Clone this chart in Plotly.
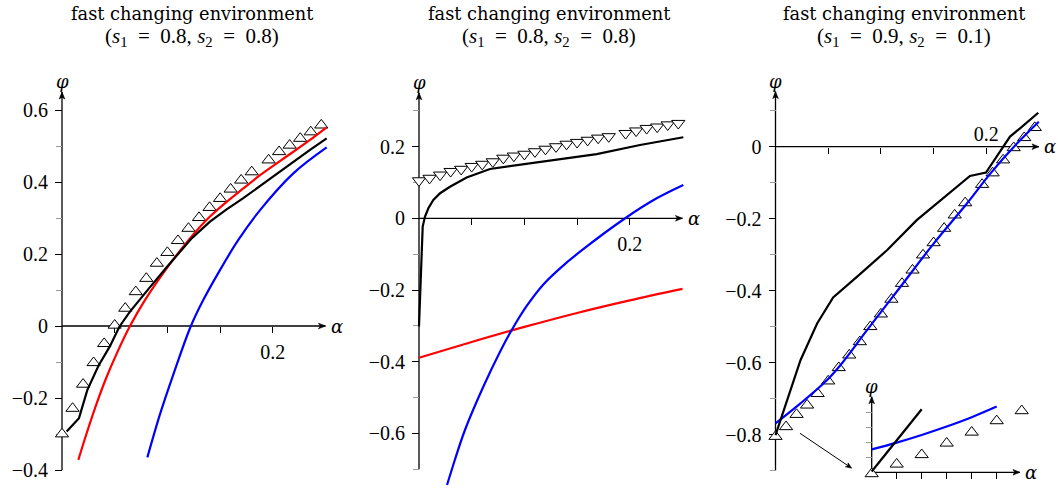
import math
import plotly.graph_objects as go

W, H = 1058, 492

# ------------------------------------------------------------------ data
# abscissae of the triangle markers (shared by the three panels)
tri_alpha = [0.00, 0.01, 0.02, 0.03, 0.04, 0.05, 0.06, 0.07, 0.08, 0.09,
             0.10, 0.11, 0.12, 0.13, 0.14, 0.15, 0.16, 0.17, 0.18,
             0.196, 0.206, 0.216, 0.226, 0.236, 0.246]

# panel 1 (s1 = 0.8, s2 = 0.8)
p1_tri = [-0.300, -0.229, -0.162, -0.102, -0.049, 0.002, 0.049, 0.095, 0.132, 0.174,
          0.204, 0.237, 0.271, 0.301, 0.329, 0.354, 0.380, 0.405, 0.428,
          0.461, 0.484, 0.502, 0.521, 0.539, 0.558]
p1_red_a = [0.0155, 0.0234, 0.0329, 0.0424, 0.0534, 0.0645, 0.0787, 0.1000, 0.1214,
            0.1404, 0.1562, 0.1720, 0.1879, 0.2037, 0.2195, 0.2353, 0.2511]
p1_red = [-0.372, -0.298, -0.215, -0.141, -0.067, 0.000, 0.072, 0.163, 0.2435,
          0.304, 0.345, 0.382, 0.419, 0.452, 0.484, 0.517, 0.552]
p1_blue_a = [0.081, 0.093, 0.1056, 0.122, 0.134, 0.150, 0.1673, 0.1879, 0.2195, 0.2511]
p1_blue = [-0.365, -0.245, -0.135, -0.002, 0.072, 0.156, 0.239, 0.322, 0.424, 0.496]
p1_black_a = [0.0044, 0.0161, 0.0240, 0.0345, 0.0455, 0.0544, 0.0645, 0.0740, 0.0835,
              0.0993, 0.1230, 0.1404, 0.1562, 0.1720, 0.1879, 0.2037, 0.2195, 0.2353, 0.2511]
p1_black = [-0.293, -0.256, -0.178, -0.111, -0.056, -0.002, 0.040, 0.075, 0.108,
            0.163, 0.2435, 0.290, 0.324, 0.355, 0.389, 0.424, 0.457, 0.489, 0.521]

# panel 2 (s1 = 0.8, s2 = 0.8)
p2_tri = [0.105, 0.112, 0.121, 0.131, 0.137, 0.145, 0.151, 0.158, 0.168, 0.174,
          0.179, 0.186, 0.193, 0.200, 0.207, 0.212, 0.218, 0.224, 0.228,
          0.237, 0.244, 0.251, 0.255, 0.261, 0.265]
p2_red_a = [0.00, 0.05, 0.10, 0.15, 0.20, 0.25]
p2_red = [-0.389, -0.345, -0.303, -0.264, -0.229, -0.197]
p2_blue_a = [0.0266, 0.031, 0.0436, 0.061, 0.0769, 0.088, 0.1022, 0.118, 0.1338,
             0.1528, 0.197, 0.2255, 0.2508]
p2_blue = [-0.744, -0.702, -0.5905, -0.4697, -0.372, -0.3116, -0.2445, -0.1845, -0.1395,
           -0.093, 0.003, 0.0558, 0.093]
p2_black_a = [0.000, 0.0035, 0.0057, 0.0089, 0.0136, 0.020, 0.0294, 0.0452, 0.0674,
              0.0927, 0.1148, 0.1686, 0.2097, 0.2508]
p2_black = [-0.302, -0.023, 0.005, 0.028, 0.051, 0.070, 0.088, 0.114, 0.1376,
            0.148, 0.155, 0.179, 0.2045, 0.226]

# panel 3 (s1 = 0.9, s2 = 0.1)
p3_tri = [-0.805, -0.778, -0.744, -0.718, -0.686, -0.651, -0.614, -0.579, -0.542, -0.500,
          -0.465, -0.424, -0.380, -0.343, -0.301, -0.267, -0.227, -0.190, -0.156,
          -0.105, -0.073, -0.037, -0.003, 0.025, 0.053]
p3_blue_a = [0.000, 0.0237, 0.049, 0.0617, 0.087, 0.1186, 0.1502, 0.1818, 0.204, 0.2293, 0.2498]
p3_blue = [-0.7685, -0.713, -0.648, -0.6065, -0.509, -0.389, -0.2685, -0.157, -0.074, 0.0093, 0.0694]
p3_black_a = [0.000, 0.011, 0.0237, 0.0395, 0.0547, 0.0775, 0.106, 0.134, 0.1624,
              0.1845, 0.1997, 0.2099, 0.2225, 0.232, 0.2493]
p3_black = [-0.801, -0.704, -0.593, -0.491, -0.4185, -0.361, -0.287, -0.204, -0.135,
            -0.0814, -0.072, -0.028, 0.028, 0.051, 0.0944]

# inset of panel 3 (close-up near the origin, unscaled)
ins_tri_x = [0, 1, 2, 3, 4, 5, 6]
ins_tri_y = [-0.1, 0.54, 1.17, 1.94, 2.67, 3.43, 4.10]
ins_blue_x = [0, 1, 2, 3, 4, 5]
ins_blue_y = [1.53, 1.98, 2.49, 3.05, 3.67, 4.38]
ins_black_x = [0, 2]
ins_black_y = [0.05, 4.2]

# pointer from the main panel-3 plot to the inset (panel-3 data units)
pointer_from = (0.0232, -0.796)
pointer_to = (0.0723, -0.893)

# text / tick labels
SP = "\u2002"
titles_l1 = ["fast changing environment"] * 3
titles_l2 = ["(<i>s</i><sub>1</sub>" + SP + "=" + SP + "0.8, <i>s</i><sub>2</sub>" + SP + "=" + SP + "0.8)",
             "(<i>s</i><sub>1</sub>" + SP + "=" + SP + "0.8, <i>s</i><sub>2</sub>" + SP + "=" + SP + "0.8)",
             "(<i>s</i><sub>1</sub>" + SP + "=" + SP + "0.9, <i>s</i><sub>2</sub>" + SP + "=" + SP + "0.1)"]
x_ticks = [0.20]
x_ticktext = ["0.2"]
x_minor = [0.05, 0.10, 0.15]
y_ticks = [[-0.4, -0.2, 0.0, 0.2, 0.4, 0.6],
           [-0.6, -0.4, -0.2, 0.0, 0.2],
           [-0.8, -0.6, -0.4, -0.2, 0.0]]
y_ticktext = [["\u22120.4", "\u22120.2", "0", "0.2", "0.4", "0.6"],
              ["\u22120.6", "\u22120.4", "\u22120.2", "0", "0.2"],
              ["\u22120.8", "\u22120.6", "\u22120.4", "\u22120.2", "0"]]
y_minor = [[-0.3, -0.1, 0.1, 0.3, 0.5],
           [-0.7, -0.5, -0.3, -0.1, 0.1, 0.3],
           [-0.9, -0.7, -0.5, -0.3, -0.1, 0.1]]

# ------------------------------------------------------------------ layout geometry
# pixel origin of each panel, pixel-per-unit scales, ranges, axis extents
panels = [
    dict(ox=62.0, oy=326.0, sx=1054, sy=360, xr=[-0.015, 0.265], yr=[-0.45, 0.66],
         ybot=-0.4, ytop=0.65, xend=0.25, title_x=191.5, above=False),
    dict(ox=419.0, oy=218.3, sx=1054, sy=358.5, xr=[-0.015, 0.265], yr=[-0.76, 0.37],
         ybot=-0.7, ytop=0.35, xend=0.25, title_x=548.5, above=False),
    dict(ox=775.5, oy=146.7, sx=1054, sy=360, xr=[-0.015, 0.265], yr=[-0.93, 0.17],
         ybot=-0.9, ytop=0.153, xend=0.25, title_x=903.5, above=True),
]
inset = dict(ox=871.7, oy=472.3, sx=25, sy=15, xr=[-0.5, 6.8], yr=[-0.6, 5.6],
             ybot=0, ytop=5.04, xend=5.93)


def _clip(v):
    return min(1.0, max(0.0, v))


def xdom(p):
    return [_clip((p["ox"] + p["xr"][0] * p["sx"]) / W), _clip((p["ox"] + p["xr"][1] * p["sx"]) / W)]


def xrange_(p):
    d = xdom(p)
    return [(d[0] * W - p["ox"]) / p["sx"], (d[1] * W - p["ox"]) / p["sx"]]


def ydom(p):
    return [_clip(1 - (p["oy"] - p["yr"][0] * p["sy"]) / H), _clip(1 - (p["oy"] - p["yr"][1] * p["sy"]) / H)]


def yrange_(p):
    d = ydom(p)
    return [(p["oy"] - (1 - d[0]) * H) / p["sy"], (p["oy"] - (1 - d[1]) * H) / p["sy"]]


def head(xa, ya, x, y, ux, uy, L=7.0, w=2.8, notch=5.2):
    """filled arrow head (pixel sized) at (x, y) pointing along (ux, uy) (y up)."""
    nx, ny = -uy, ux
    pts = [(0, 0),
           (-L * ux + w * nx, -L * uy + w * ny),
           (-notch * ux, -notch * uy),
           (-L * ux - w * nx, -L * uy - w * ny)]
    path = "M" + " L".join("%.2f,%.2f" % q for q in pts) + " Z"
    return dict(type="path", xref=xa, yref=ya, xsizemode="pixel", ysizemode="pixel",
                xanchor=x, yanchor=y, path=path, fillcolor="black",
                line=dict(color="black", width=0.6), layer="above")


SERIF = "Liberation Serif, Times New Roman, Times, serif"
TICKFONT = dict(family=SERIF, size=20, color="black")
LBLFONT = dict(family="DejaVu Serif", size=18, color="black")
TRI_SIZE = 11.5

fig = go.Figure()

series = [
    (p1_tri, "triangle-up", [(p1_red_a, p1_red, "#ff0000", "spline"),
                             (p1_blue_a, p1_blue, "#0000ff", "spline"),
                             (p1_black_a, p1_black, "black", "linear")]),
    (p2_tri, "triangle-down", [(p2_red_a, p2_red, "#ff0000", "spline"),
                               (p2_blue_a, p2_blue, "#0000ff", "spline"),
                               (p2_black_a, p2_black, "black", "linear")]),
    (p3_tri, "triangle-up", [(p3_blue_a, p3_blue, "#0000ff", "spline"),
                             (p3_black_a, p3_black, "black", "linear")]),
]

shapes = []
annotations = []
for i, (p, (tri, sym, lines)) in enumerate(zip(panels, series)):
    n = "" if i == 0 else str(i + 1)
    xa, ya = "x" + n, "y" + n
    fig.add_trace(go.Scatter(x=tri_alpha, y=tri, mode="markers", xaxis=xa, yaxis=ya,
                             cliponaxis=False, showlegend=False,
                             marker=dict(symbol=sym, size=TRI_SIZE, color="white",
                                         line=dict(color="black", width=1))))
    for (a, v, c, shp) in lines:
        fig.add_trace(go.Scatter(x=a, y=v, mode="lines", xaxis=xa, yaxis=ya, showlegend=False,
                                 line=dict(color=c, width=2.2, shape=shp)))
    xdict = dict(
        domain=xdom(p), range=xrange_(p), anchor="free", position=1 - p["oy"] / H,
        showline=False, zeroline=False, showgrid=False,
        tickmode="array", tickvals=x_ticks, ticktext=x_ticktext,
        ticklen=6, tickwidth=1, tickcolor="black",
        minor=dict(tickmode="array", tickvals=x_minor, ticklen=6, tickwidth=1,
                   tickcolor="black", ticks="inside" if p["above"] else "outside"),
        tickfont=TICKFONT, ticklabelstandoff=2, layer="below traces")
    if p["above"]:
        xdict.update(side="top", ticks="inside")
    else:
        xdict.update(side="bottom", ticks="outside")
    fig.layout["xaxis" + n] = xdict
    fig.layout["yaxis" + n] = dict(
        domain=ydom(p), range=yrange_(p), anchor="free", position=p["ox"] / W,
        showline=False, zeroline=False, showgrid=False,
        tickmode="array", tickvals=y_ticks[i], ticktext=y_ticktext[i],
        ticks="outside", ticklen=7, tickwidth=1, tickcolor="black",
        minor=dict(tickmode="array", tickvals=y_minor[i], ticks="outside", ticklen=6,
                   tickwidth=1, tickcolor="#9a9a9a"),
        tickfont=TICKFONT, ticklabelstandoff=3, layer="below traces")
    # axis lines with arrow heads
    shapes.append(dict(type="line", xref=xa, yref=ya, x0=0, y0=0, x1=p["xend"], y1=0,
                       line=dict(color="black", width=1.3), layer="below"))
    shapes.append(dict(type="line", xref=xa, yref=ya, x0=0, y0=p["ybot"], x1=0, y1=p["ytop"],
                       line=dict(color="black", width=1.3), layer="below"))
    shapes.append(head(xa, ya, p["xend"], 0, 1, 0))
    shapes.append(head(xa, ya, 0, p["ytop"], 0, 1))
    annotations.append(dict(x=p["xend"], y=0, xref=xa, yref=ya, text="<i>\u03b1</i>",
                            showarrow=False, xanchor="left", xshift=3, font=LBLFONT))
    annotations.append(dict(x=0, y=p["ytop"], xref=xa, yref=ya, text="<i>\u03c6</i>",
                            showarrow=False, yanchor="bottom", yshift=-2, font=LBLFONT))
    # titles
    annotations.append(dict(x=p["title_x"] / W, y=1 - 14 / H,
                            xref="paper", yref="paper", text=titles_l1[i], showarrow=False,
                            xanchor="center", yanchor="middle",
                            font=dict(family="DejaVu Serif", size=17.8, color="black")))
    annotations.append(dict(x=p["title_x"] / W, y=1 - 37 / H,
                            xref="paper", yref="paper", text=titles_l2[i], showarrow=False,
                            xanchor="center", yanchor="middle",
                            font=dict(family=SERIF, size=21, color="black")))

# pointer arrow from panel 3 to inset
p3 = panels[2]
dxp = (pointer_to[0] - pointer_from[0]) * p3["sx"]
dyp = (pointer_to[1] - pointer_from[1]) * p3["sy"]
ln = math.hypot(dxp, dyp)
shapes.append(dict(type="line", xref="x3", yref="y3", x0=pointer_from[0], y0=pointer_from[1],
                   x1=pointer_to[0] - 4 * dxp / ln / p3["sx"], y1=pointer_to[1] - 4 * dyp / ln / p3["sy"],
                   line=dict(color="black", width=1), layer="above"))
shapes.append(head("x3", "y3", pointer_to[0], pointer_to[1], dxp / ln, dyp / ln, L=6, w=2.4, notch=4.5))

# ---- inset
fig.add_trace(go.Scatter(x=ins_tri_x, y=ins_tri_y, mode="markers", xaxis="x4", yaxis="y4",
                         cliponaxis=False, showlegend=False,
                         marker=dict(symbol="triangle-up", size=TRI_SIZE, color="white",
                                     line=dict(color="black", width=1))))
fig.add_trace(go.Scatter(x=ins_blue_x, y=ins_blue_y, mode="lines", xaxis="x4", yaxis="y4",
                         showlegend=False, line=dict(color="#0000ff", width=2.2, shape="spline")))
fig.add_trace(go.Scatter(x=ins_black_x, y=ins_black_y, mode="lines", xaxis="x4", yaxis="y4",
                         showlegend=False, line=dict(color="black", width=2.2)))
fig.layout["xaxis4"] = dict(domain=xdom(inset), range=xrange_(inset), anchor="free",
                            position=1 - inset["oy"] / H, showline=False, zeroline=False,
                            showgrid=False, tickmode="array", tickvals=[1, 2, 3, 4, 5],
                            showticklabels=False, ticks="outside", ticklen=6, tickwidth=1,
                            tickcolor="black", layer="below traces")
fig.layout["yaxis4"] = dict(domain=ydom(inset), range=yrange_(inset), anchor="free",
                            position=inset["ox"] / W, showline=False, zeroline=False,
                            showgrid=False, tickmode="array", tickvals=[1, 2, 3, 4],
                            showticklabels=False, ticks="outside", ticklen=6, tickwidth=1,
                            tickcolor="#9a9a9a", layer="below traces")
shapes.append(dict(type="line", xref="x4", yref="y4", x0=0, y0=0, x1=inset["xend"], y1=0,
                   line=dict(color="black", width=1.3), layer="below"))
shapes.append(dict(type="line", xref="x4", yref="y4", x0=0, y0=0, x1=0, y1=inset["ytop"],
                   line=dict(color="black", width=1.3), layer="below"))
shapes.append(head("x4", "y4", inset["xend"], 0, 1, 0))
shapes.append(head("x4", "y4", 0, inset["ytop"], 0, 1))
annotations.append(dict(x=inset["xend"], y=0, xref="x4", yref="y4", text="<i>\u03b1</i>",
                        showarrow=False, xanchor="left", xshift=3, font=LBLFONT))
annotations.append(dict(x=0, y=inset["ytop"], xref="x4", yref="y4", text="<i>\u03c6</i>",
                        showarrow=False, yanchor="bottom", yshift=-2, font=LBLFONT))

fig.update_layout(width=W, height=H, margin=dict(l=0, r=0, t=0, b=0),
                  paper_bgcolor="white", plot_bgcolor="rgba(0,0,0,0)",
                  shapes=shapes, annotations=annotations, showlegend=False)

fig.write_html("out.html", config={"displayModeBar": False},
               post_script="document.body.style.margin='0px';")
